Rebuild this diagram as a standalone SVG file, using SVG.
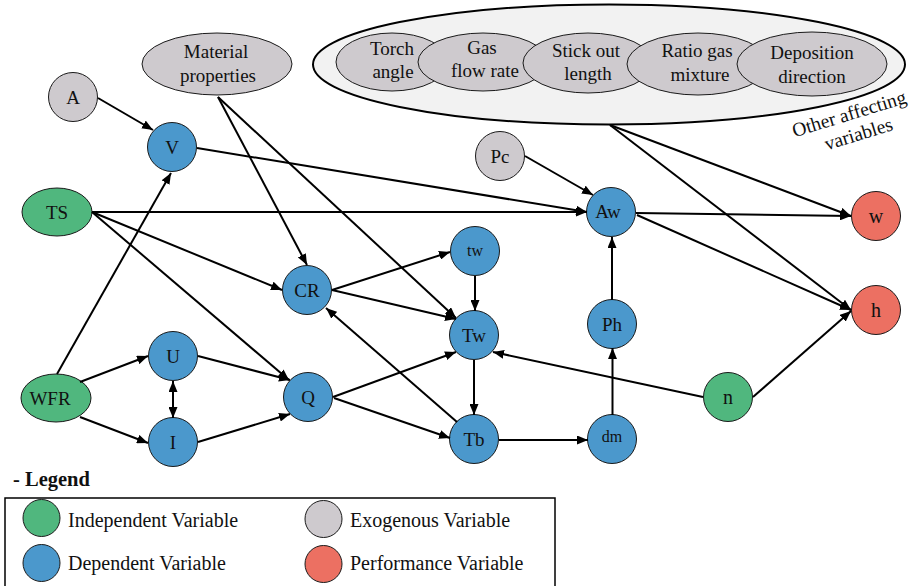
<svg xmlns="http://www.w3.org/2000/svg" width="917" height="586" viewBox="0 0 917 586">
  <defs>
    <style>
      text{font-family:'Liberation Serif','Times New Roman',serif;font-weight:normal;fill:#111}
      .lbl{font-size:19px;text-anchor:middle}
      .sm{font-size:16px}
      .big{font-size:20px}
      .rot{font-size:19.5px}
      .ind{fill:#50B77E;stroke:#1a1a1a;stroke-width:1}
      .dep{fill:#4B98CC;stroke:#1a1a1a;stroke-width:1}
      .exo{fill:#CECACE;stroke:#1a1a1a;stroke-width:1}
      .perf{fill:#EC7062;stroke:#1a1a1a;stroke-width:1}
      .grp{fill:#F2F2F2;stroke:#000;stroke-width:2}
      .edge line{stroke:#000;stroke-width:2;fill:none;marker-end:url(#arr)}
      .leg{font-size:20px}
      .head{font-size:20.5px;font-weight:bold}
    </style>
    <marker id="arr" viewBox="0 0 11 9" refX="11" refY="4.5" markerWidth="11" markerHeight="9" markerUnits="userSpaceOnUse" orient="auto-start-reverse">
      <path d="M0,0 L11,4.5 L0,9 z" fill="#000"/>
    </marker>
  </defs>

  <!-- group of other affecting variables -->
  <g id="other-vars">
    <ellipse class="grp" cx="609" cy="64.5" rx="296" ry="60"/>
    <g id="torch-angle">
      <ellipse class="exo" cx="392" cy="62" rx="56" ry="29"/>
      <text class="lbl" x="392" y="55">Torch</text>
      <text class="lbl" x="393" y="78">angle</text>
    </g>
    <g id="gas-flow-rate">
      <ellipse class="exo" cx="483" cy="62" rx="65" ry="29"/>
      <text class="lbl" x="482" y="54">Gas</text>
      <text class="lbl" x="485" y="77">flow rate</text>
    </g>
    <g id="stick-out-length">
      <ellipse class="exo" cx="588" cy="63" rx="65" ry="30"/>
      <text class="lbl" x="586" y="57">Stick out</text>
      <text class="lbl" x="588" y="80">length</text>
    </g>
    <g id="ratio-gas-mixture">
      <ellipse class="exo" cx="698" cy="64" rx="71" ry="31"/>
      <text class="lbl" x="697" y="57">Ratio gas</text>
      <text class="lbl" x="700" y="81">mixture</text>
    </g>
    <g id="deposition-direction">
      <ellipse class="exo" cx="812" cy="64" rx="75" ry="32"/>
      <text class="lbl" x="812" y="59">Deposition</text>
      <text class="lbl" x="812" y="83">direction</text>
    </g>
    <g transform="translate(851,120) rotate(-17)">
      <text class="lbl rot" x="0" y="0">Other affecting</text>
      <text class="lbl rot" x="3" y="22">variables</text>
    </g>
  </g>

  <!-- nodes -->
  <g id="node-A"><circle class="exo" cx="73" cy="97" r="24.5"/><text class="lbl" x="73" y="104">A</text></g>
  <g id="node-material"><ellipse class="exo" cx="217" cy="64" rx="75" ry="31"/>
    <text class="lbl" x="216" y="58">Material</text><text class="lbl" x="218" y="82">properties</text></g>
  <g id="node-V"><circle class="dep" cx="172" cy="147" r="24.5"/><text class="lbl" x="172" y="154">V</text></g>
  <g id="node-TS"><ellipse class="ind" cx="57" cy="212" rx="35" ry="24"/><text class="lbl" x="57" y="219">TS</text></g>
  <g id="node-WFR"><ellipse class="ind" cx="56" cy="398" rx="35" ry="24"/><text class="lbl" x="50" y="405">WFR</text></g>
  <g id="node-U"><circle class="dep" cx="173" cy="356" r="24.5"/><text class="lbl" x="173" y="363">U</text></g>
  <g id="node-I"><circle class="dep" cx="173" cy="442" r="24.5"/><text class="lbl" x="173" y="449">I</text></g>
  <g id="node-CR"><circle class="dep" cx="307" cy="290" r="24.5"/><text class="lbl" x="307" y="297">CR</text></g>
  <g id="node-Q"><circle class="dep" cx="308" cy="397" r="24.5"/><text class="lbl" x="308" y="404">Q</text></g>
  <g id="node-tw"><circle class="dep" cx="475" cy="251" r="24.5"/><text class="lbl sm" x="475" y="256">tw</text></g>
  <g id="node-Tw"><circle class="dep" cx="474" cy="335" r="24.5"/><text class="lbl" x="474" y="342">Tw</text></g>
  <g id="node-Tb"><circle class="dep" cx="474" cy="439" r="24.5"/><text class="lbl" x="474" y="446">Tb</text></g>
  <g id="node-Pc"><circle class="exo" cx="500" cy="156" r="24.5"/><text class="lbl" x="500" y="163">Pc</text></g>
  <g id="node-Aw"><circle class="dep" cx="611" cy="212" r="24.5"/><text class="lbl" x="608" y="218">Aw</text></g>
  <g id="node-Ph"><circle class="dep" cx="612" cy="324" r="24.5"/><text class="lbl" x="612" y="331">Ph</text></g>
  <g id="node-dm"><circle class="dep" cx="612" cy="439" r="24.5"/><text class="lbl sm" x="612" y="442">dm</text></g>
  <g id="node-n"><circle class="ind" cx="728" cy="397" r="24.5"/><text class="lbl big" x="728" y="404">n</text></g>
  <g id="node-w"><circle class="perf" cx="876" cy="216" r="24.5"/><text class="lbl big" x="876" y="223">w</text></g>
  <g id="node-h"><circle class="perf" cx="876" cy="310" r="24.5"/><text class="lbl big" x="876" y="317">h</text></g>

  <!-- connectors -->
  <g id="connectors" class="edge">
    <line x1="98" y1="98" x2="153" y2="130"/>
    <line x1="57" y1="374" x2="171" y2="173"/>
    <line x1="218" y1="97" x2="307" y2="265"/>
    <line x1="218" y1="97" x2="456" y2="318"/>
    <line x1="197" y1="148" x2="587" y2="212"/>
    <line x1="92" y1="212" x2="587" y2="212"/>
    <line x1="92" y1="212" x2="282" y2="290"/>
    <line x1="92" y1="212" x2="289" y2="380"/>
    <line x1="525" y1="156" x2="593" y2="195"/>
    <line x1="610" y1="125" x2="851" y2="216"/>
    <line x1="610" y1="125" x2="851" y2="310"/>
    <line x1="636" y1="213" x2="851" y2="216"/>
    <line x1="637" y1="215" x2="851" y2="310"/>
    <line x1="332" y1="290" x2="450" y2="252"/>
    <line x1="332" y1="290" x2="456" y2="319"/>
    <line x1="475" y1="276" x2="475" y2="311"/>
    <line x1="457" y1="422" x2="326" y2="308"/>
    <line x1="333" y1="397" x2="456" y2="352"/>
    <line x1="334" y1="398" x2="450" y2="438"/>
    <line x1="474" y1="360" x2="474" y2="415"/>
    <line x1="499" y1="440" x2="588" y2="440"/>
    <line x1="612.5" y1="415" x2="612.5" y2="348"/>
    <line x1="612" y1="300" x2="612" y2="237"/>
    <line x1="703" y1="397" x2="493" y2="352"/>
    <line x1="753" y1="397" x2="851" y2="311"/>
    <line x1="80" y1="382" x2="148" y2="356"/>
    <line x1="80" y1="417" x2="148" y2="443"/>
    <line x1="173" y1="381" x2="173" y2="418" marker-start="url(#arr)"/>
    <line x1="198" y1="356" x2="290" y2="380"/>
    <line x1="198" y1="442" x2="290" y2="414"/>
  </g>

  <!-- legend -->
  <g id="legend">
    <text class="head" x="13" y="486">- Legend</text>
    <rect x="5" y="498" width="550" height="100" fill="#fff" stroke="#000" stroke-width="1.5"/>
    <circle class="ind" cx="41.5" cy="518" r="18.5"/>
    <text class="leg" x="68" y="527">Independent Variable</text>
    <circle class="dep" cx="41.5" cy="563" r="18.5"/>
    <text class="leg" x="68" y="570">Dependent Variable</text>
    <circle class="exo" cx="323.5" cy="519" r="18.5"/>
    <text class="leg" x="350" y="527">Exogenous Variable</text>
    <circle class="perf" cx="323.5" cy="564" r="18.5"/>
    <text class="leg" x="350" y="570">Performance Variable</text>
  </g>
</svg>
